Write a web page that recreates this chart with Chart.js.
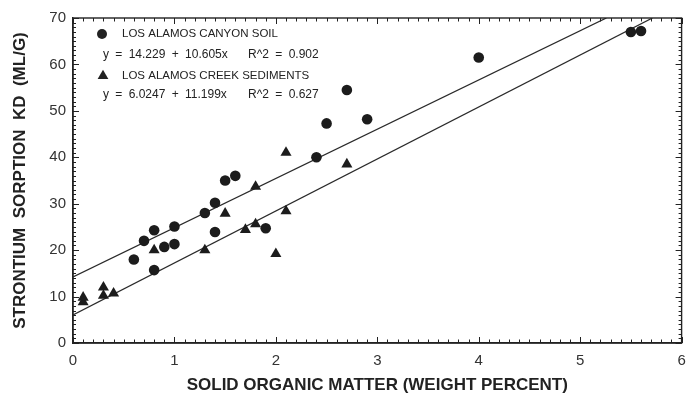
<!DOCTYPE html>
<html>
<head>
<meta charset="utf-8">
<title>Strontium sorption vs organic matter</title>
<script src="https://cdn.jsdelivr.net/npm/chart.js@4.4.1/dist/chart.umd.min.js"></script>
<style>
  html, body { margin: 0; padding: 0; background: #fff; }
  canvas { display: block; }
</style>
</head>
<body>
<canvas id="grafico" width="688" height="402"></canvas>
<script>
// Los Alamos Canyon soil (circles)
const sueloX = [0.6, 0.7, 0.8, 0.8, 0.9, 1.0, 1.0, 1.3, 1.4, 1.4, 1.5, 1.6, 1.9, 2.4, 2.5, 2.7, 2.9, 4.0, 5.5, 5.6];
const sueloY = [18.0, 22.0, 24.3, 15.7, 20.7, 25.1, 21.3, 28.0, 30.2, 23.9, 35.0, 36.0, 24.7, 40.0, 47.3, 54.5, 48.2, 61.5, 67.0, 67.2];

// Los Alamos Creek sediments (triangles)
const sedX = [0.1, 0.1, 0.3, 0.3, 0.4, 0.8, 1.3, 1.5, 1.7, 1.8, 1.8, 2.0, 2.1, 2.1, 2.7];
const sedY = [9.8, 8.8, 12.0, 10.2, 10.7, 20.0, 20.0, 27.9, 24.4, 25.6, 33.7, 19.2, 28.4, 41.0, 38.5];

// regression fits: [intercept, slope, r^2]
const ajusteSuelo = [14.229, 10.605, 0.902];
const ajusteSed = [6.0247, 11.199, 0.627];

const ejeXTicks = [0, 1, 2, 3, 4, 5, 6];
const ejeYTicks = [0, 10, 20, 30, 40, 50, 60, 70];

const etiquetas = {
  suelo: 'LOS ALAMOS CANYON SOIL',
  sed: 'LOS ALAMOS CREEK SEDIMENTS',
  ejeX: 'SOLID ORGANIC MATTER (WEIGHT PERCENT)',
  ejeY: 'STRONTIUM  SORPTION  KD  (ML/G)'
};

const FUENTE = '"Liberation Sans", Arial, Helvetica, sans-serif';
const TINTA = '#222';
const yMax = ejeYTicks[ejeYTicks.length - 1];
const xMax = ejeXTicks[ejeXTicks.length - 1];

function puntos(xs, ys) {
  return xs.map((x, i) => ({ x: x, y: ys[i] }));
}

// fit line from x = 0 up to where it leaves the top of the plot
function recta(ajuste) {
  const a = ajuste[0], b = ajuste[1];
  const xFin = Math.min(xMax, (yMax - a) / b);
  return [{ x: 0, y: a }, { x: xFin, y: a + b * xFin }];
}

function ecuacion(ajuste) {
  return 'y = ' + ajuste[0] + ' + ' + ajuste[1] + 'x';
}

// frame on all four sides with inward minor/major tick marks
const marcoPlugin = {
  id: 'marco',
  afterDraw(chart) {
    const { ctx, chartArea: a, scales } = chart;
    const sx = scales.x, sy = scales.y;
    ctx.save();
    ctx.strokeStyle = TINTA;
    ctx.lineWidth = 1.4;
    ctx.strokeRect(a.left, a.top, a.right - a.left, a.bottom - a.top);
    ctx.lineWidth = 1;
    ctx.beginPath();
    for (let i = 0; i <= xMax * 10; i++) {
      const px = Math.round(sx.getPixelForValue(i / 10)) + 0.5;
      const largo = i % 10 === 0 ? 6 : 3.5;
      ctx.moveTo(px, a.bottom); ctx.lineTo(px, a.bottom - largo);
      ctx.moveTo(px, a.top); ctx.lineTo(px, a.top + largo);
    }
    for (let j = 0; j <= yMax; j++) {
      const py = Math.round(sy.getPixelForValue(j)) + 0.5;
      const largo = j % 10 === 0 ? 6 : 3;
      ctx.moveTo(a.left, py); ctx.lineTo(a.left + largo, py);
      ctx.moveTo(a.right, py); ctx.lineTo(a.right - largo, py);
    }
    ctx.stroke();
    ctx.restore();
  }
};

// legend block in the upper left of the plot, with the fit equations
const leyendaPlugin = {
  id: 'leyenda',
  afterDraw(chart) {
    const { ctx, chartArea: a } = chart;
    const x0 = a.left;
    const y0 = a.top;
    ctx.save();
    ctx.fillStyle = TINTA;
    ctx.textBaseline = 'middle';
    ctx.textAlign = 'left';

    // circle marker
    ctx.beginPath();
    ctx.arc(x0 + 29, y0 + 16, 5, 0, Math.PI * 2);
    ctx.fill();
    // triangle marker
    const tx = x0 + 30, ty = y0 + 58, r = 6.2;
    ctx.beginPath();
    ctx.moveTo(tx, ty - r);
    ctx.lineTo(tx + r * 0.866, ty + r * 0.5);
    ctx.lineTo(tx - r * 0.866, ty + r * 0.5);
    ctx.closePath();
    ctx.fill();

    ctx.font = '11.5px ' + FUENTE;
    ctx.fillText(etiquetas.suelo, x0 + 49, y0 + 16);
    ctx.fillText(etiquetas.sed, x0 + 49, y0 + 58);

    ctx.font = '12px ' + FUENTE;
    if ('wordSpacing' in ctx) ctx.wordSpacing = '3px';
    ctx.fillText(ecuacion(ajusteSuelo), x0 + 30, y0 + 37);
    ctx.fillText('R^2 = ' + ajusteSuelo[2], x0 + 175, y0 + 37);
    ctx.fillText(ecuacion(ajusteSed), x0 + 30, y0 + 77);
    ctx.fillText('R^2 = ' + ajusteSed[2], x0 + 175, y0 + 77);
    ctx.restore();
  }
};

const ctx = document.getElementById('grafico').getContext('2d');
new Chart(ctx, {
  type: 'scatter',
  data: {
    datasets: [
      {
        label: etiquetas.suelo,
        data: puntos(sueloX, sueloY),
        pointStyle: 'circle',
        pointRadius: 5.3,
        backgroundColor: '#1c1c1c',
        borderWidth: 0
      },
      {
        label: etiquetas.sed,
        data: puntos(sedX, sedY),
        pointStyle: 'triangle',
        pointRadius: 6.4,
        backgroundColor: '#1c1c1c',
        borderWidth: 0
      },
      {
        type: 'line',
        data: recta(ajusteSuelo),
        borderColor: '#2a2a2a',
        borderWidth: 1.3,
        pointRadius: 0,
        fill: false
      },
      {
        type: 'line',
        data: recta(ajusteSed),
        borderColor: '#2a2a2a',
        borderWidth: 1.3,
        pointRadius: 0,
        fill: false
      }
    ]
  },
  options: {
    responsive: false,
    animation: false,
    devicePixelRatio: 1,
    layout: { padding: { top: 18, right: 2, left: 0, bottom: 0 } },
    plugins: {
      legend: { display: false },
      tooltip: { enabled: false }
    },
    scales: {
      x: {
        type: 'linear',
        min: 0,
        max: xMax,
        afterBuildTicks: s => { s.ticks = ejeXTicks.map(v => ({ value: v })); },
        afterFit: s => { s.height = 59; s.paddingLeft = 0; s.paddingRight = 0; },
        ticks: { color: '#333', font: { family: FUENTE, size: 15 }, padding: 9 },
        grid: { display: false, drawTicks: false },
        border: { display: true, color: TINTA, width: 1.4 },
        title: {
          display: true,
          text: etiquetas.ejeX,
          color: TINTA,
          font: { family: FUENTE, size: 17, weight: 'bold' },
          padding: { top: 0, bottom: 6 }
        }
      },
      y: {
        type: 'linear',
        min: 0,
        max: yMax,
        afterBuildTicks: s => { s.ticks = ejeYTicks.map(v => ({ value: v })); },
        afterFit: s => { s.width = 73; s.paddingTop = 0; s.paddingBottom = 0; },
        ticks: { color: '#333', font: { family: FUENTE, size: 15 }, padding: 7 },
        grid: { display: false, drawTicks: false },
        border: { display: true, color: TINTA, width: 1.4 },
        title: {
          display: true,
          text: etiquetas.ejeY,
          color: TINTA,
          font: { family: FUENTE, size: 17, weight: 'bold' },
          padding: { top: 10, bottom: 0 }
        }
      }
    }
  },
  plugins: [marcoPlugin, leyendaPlugin]
});
</script>
</body>
</html>
